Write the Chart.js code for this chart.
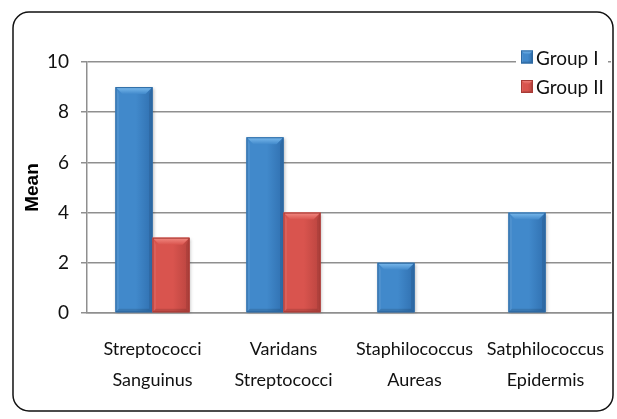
<!DOCTYPE html>
<html>
<head>
<meta charset="utf-8">
<script src="https://cdn.jsdelivr.net/npm/chart.js@4/dist/chart.umd.min.js"></script>
<style>
  html, body { margin: 0; padding: 0; background: #fff; }
  #wrap { width: 617px; height: 419px; position: relative; }
</style>
</head>
<body>
<div id="wrap"><canvas id="c" width="617" height="419"></canvas></div>
<script>
const categories = [
  ["Streptococci", "Sanguinus"],
  ["Varidans", "Streptococci"],
  ["Staphilococcus", "Aureas"],
  ["Satphilococcus", "Epidermis"]
];
const groupI = [9, 7, 2, 4];
const groupII = [3, 4, 0, 0];
const seriesNames = ["Group I", "Group II"];
const yTicks = [0, 2, 4, 6, 8, 10];
const yTitle = "Mean";

const FAM = 'Lato, "Liberation Sans", sans-serif';
const XSIZE = 18;
const YSIZE = 19;
const LSIZE = 19;

const palettes = [
  { body: '#4189cb', light: '#7dbcee', dark: '#3070b0', edge: '#2d69a2' },
  { body: '#d9544e', light: '#f38c84', dark: '#b9443f', edge: '#a93b36' }
];

function drawBevelBar(ctx, x0, x1, yTop, yBot, pal, bev) {
  const w = x1 - x0, h = yBot - yTop;
  if (h <= 0.5) return;
  const b = Math.min(bev, w / 3, h / 3);
  const g = ctx.createLinearGradient(x0, 0, x1, 0);
  g.addColorStop(0, pal.body);
  g.addColorStop(0.55, pal.body);
  g.addColorStop(1, pal.dark);
  ctx.fillStyle = g;
  ctx.fillRect(x0, yTop, w, h);
  const gt = ctx.createLinearGradient(0, yTop, 0, yTop + b);
  gt.addColorStop(0, pal.light);
  gt.addColorStop(1, pal.body);
  ctx.fillStyle = gt;
  ctx.beginPath();
  ctx.moveTo(x0, yTop); ctx.lineTo(x1, yTop); ctx.lineTo(x1 - b, yTop + b); ctx.lineTo(x0 + b, yTop + b); ctx.closePath();
  ctx.fill();
  ctx.fillStyle = 'rgba(255,255,255,0.07)';
  ctx.beginPath();
  ctx.moveTo(x0, yTop); ctx.lineTo(x0 + b * 0.5, yTop + b); ctx.lineTo(x0 + b * 0.5, yBot - b * 0.5); ctx.lineTo(x0, yBot); ctx.closePath();
  ctx.fill();
  ctx.fillStyle = 'rgba(0,0,0,0.08)';
  ctx.beginPath();
  ctx.moveTo(x1, yTop); ctx.lineTo(x1 - b * 0.5, yTop + b); ctx.lineTo(x1 - b * 0.5, yBot - b * 0.5); ctx.lineTo(x1, yBot); ctx.closePath();
  ctx.fill();
  ctx.fillStyle = 'rgba(0,0,0,0.12)';
  ctx.beginPath();
  ctx.moveTo(x0, yBot); ctx.lineTo(x0 + b * 0.5, yBot - b * 0.5); ctx.lineTo(x1 - b * 0.5, yBot - b * 0.5); ctx.lineTo(x1, yBot); ctx.closePath();
  ctx.fill();
  ctx.strokeStyle = pal.edge;
  ctx.lineWidth = 1;
  ctx.strokeRect(x0 + 0.5, yTop + 0.5, w - 1, h - 1);
}

const bevelPlugin = {
  id: 'bevel',
  afterDatasetsDraw(chart) {
    const ctx = chart.ctx;
    ctx.save();
    chart.data.datasets.forEach((ds, i) => {
      const meta = chart.getDatasetMeta(i);
      meta.data.forEach(bar => {
        const p = bar.getProps(['x', 'y', 'base', 'width'], true);
        const x0 = p.x - p.width / 2, x1 = p.x + p.width / 2;
        const yTop = Math.min(p.y, p.base), yBot = Math.max(p.y, p.base);
        if (yBot - yTop > 0.5) {
          ctx.shadowColor = 'rgba(0,0,0,0.25)';
          ctx.shadowBlur = 3;
          ctx.shadowOffsetX = 1;
          ctx.shadowOffsetY = 1;
          ctx.fillStyle = palettes[i].body;
          ctx.fillRect(x0, yTop, x1 - x0, yBot - yTop);
          ctx.shadowColor = 'transparent';
          ctx.shadowBlur = 0; ctx.shadowOffsetX = 0; ctx.shadowOffsetY = 0;
        }
        drawBevelBar(ctx, x0, x1, yTop, yBot, palettes[i], 7);
      });
    });
    ctx.restore();
  },
  afterDraw(chart) {
    const ctx = chart.ctx;
    const a = chart.chartArea;
    ctx.save();
    const lx = a.right - 95;
    ctx.fillStyle = '#ffffff';
    ctx.fillRect(lx, a.top - 16, 92, 52);
    chart.data.datasets.forEach((ds, i) => {
      const cy = a.top - 4.5 + i * 29.5;
      drawBevelBar(ctx, lx + 5, lx + 17, cy - 7, cy + 6, palettes[i], 4);
      ctx.fillStyle = '#111';
      ctx.font = LSIZE + 'px ' + FAM;
      ctx.textBaseline = 'middle';
      ctx.textAlign = 'left';
      ctx.fillText(ds.label, lx + 20, cy + 1);
    });
    ctx.strokeStyle = '#111';
    ctx.lineWidth = 1.5;
    const fx = 13, fy = 12, fw = 600, fh = 399, r = 16;
    ctx.beginPath();
    ctx.moveTo(fx + r, fy);
    ctx.lineTo(fx + fw - r, fy);
    ctx.arcTo(fx + fw, fy, fx + fw, fy + r, r);
    ctx.lineTo(fx + fw, fy + fh - r);
    ctx.arcTo(fx + fw, fy + fh, fx + fw - r, fy + fh, r);
    ctx.lineTo(fx + r, fy + fh);
    ctx.arcTo(fx, fy + fh, fx, fy + fh - r, r);
    ctx.lineTo(fx, fy + r);
    ctx.arcTo(fx, fy, fx + r, fy, r);
    ctx.closePath();
    ctx.stroke();
    ctx.restore();
  }
};

new Chart(document.getElementById('c'), {
  type: 'bar',
  data: {
    labels: categories,
    datasets: [
      { label: seriesNames[0], data: groupI, backgroundColor: 'rgba(0,0,0,0)', borderWidth: 0 },
      { label: seriesNames[1], data: groupII, backgroundColor: 'rgba(0,0,0,0)', borderWidth: 0 }
    ]
  },
  options: {
    responsive: false,
    animation: false,
    devicePixelRatio: 1,
    layout: { padding: { left: 0, right: 6, top: 62, bottom: 0 } },
    plugins: { legend: { display: false }, tooltip: { enabled: false } },
    datasets: { bar: { categoryPercentage: 0.565, barPercentage: 1.0 } },
    scales: {
      x: {
        grid: { display: false, drawTicks: false },
        border: { display: true, color: '#8f8f8f', width: 1.5 },
        ticks: {
          color: '#111',
          font: { family: FAM, size: XSIZE, lineHeight: 31 / XSIZE },
          padding: 21,
          maxRotation: 0,
          autoSkip: false
        },
        afterFit(scale) { scale.height = 106; scale.paddingLeft = 0; scale.paddingRight = 0; }
      },
      y: {
        min: 0, max: 10,
        afterBuildTicks(scale) { scale.ticks = yTicks.map(v => ({ value: v })); },
        grid: { color: '#8f8f8f', lineWidth: 1.5, tickLength: 6, drawTicks: true },
        border: { display: true, color: '#8f8f8f', width: 1.5 },
        ticks: {
          color: '#111',
          font: { family: FAM, size: YSIZE },
          padding: 12
        },
        title: {
          display: true,
          text: yTitle,
          color: '#000',
          font: { family: '"Liberation Sans", Arial, sans-serif', size: 19, weight: 'bold' },
          padding: { top: 21, bottom: 0 }
        },
        afterFit(scale) { scale.width = 87; scale.paddingTop = 0; scale.paddingBottom = 0; }
      }
    }
  },
  plugins: [bevelPlugin]
});
</script>
</body>
</html>
